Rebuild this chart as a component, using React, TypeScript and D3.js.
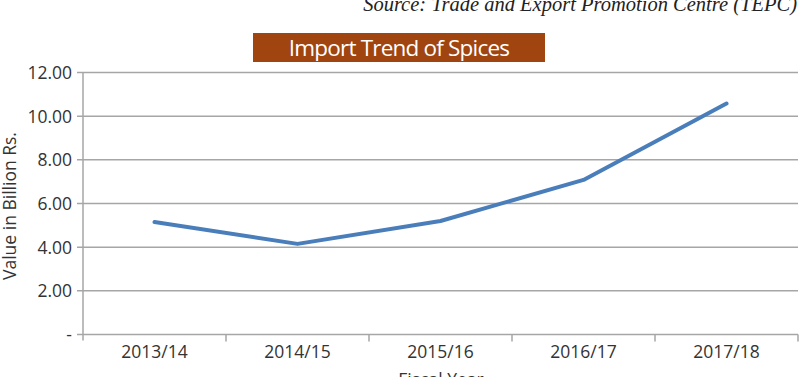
import React from "react";
import * as d3 from "d3";

const categories = ["2013/14", "2014/15", "2015/16", "2016/17", "2017/18"];
const values = [5.15, 4.15, 5.2, 7.08, 10.58];
const yTicks = [0, 2, 4, 6, 8, 10, 12];
const title = "Import Trend of Spices";
const source = "Source: Trade and Export Promotion Centre (TEPC)";
const yTitle = "Value in Billion Rs.";
const xTitle = "Fiscal Year";

export default function App() {
  const W = 800, H = 377;
  const left = 83, right = 798, top = 72.5, bottom = 334.5;
  const x = d3.scaleBand<string>().domain(categories).range([left, right]);
  const y = d3.scaleLinear().domain([0, 12]).range([bottom, top]);
  const line = d3.line<number>()
    .x((_, i) => (x(categories[i]) as number) + x.bandwidth() / 2)
    .y((d) => y(d));
  const font = "'Open Sans', 'Noto Sans', sans-serif";
  return (
    <svg width={W} height={H} style={{ position: "absolute", left: 0, top: 0 }}>
      <rect width={W} height={H} fill="#fff" />
      <text x={797} y={11} textAnchor="end" fontFamily="'Liberation Serif', serif" fontStyle="italic" fontSize={20.5} fill="#222">{source}</text>
      <rect x={253} y={33} width={292} height={29} fill="#a0450f" />
      <text x={399} y={55.5} textAnchor="middle" fontFamily={font} fontSize={22.5} fill="#fff" style={{ letterSpacing: "-0.8px" }}>{title}</text>
      {yTicks.map((t) => (
        <g key={t}>
          <line x1={77} x2={right} y1={y(t)} y2={y(t)} stroke="#a6a6a6" strokeWidth={1.5} />
          <text x={72} y={y(t) + 6.5} textAnchor="end" fontFamily={font} fontSize={17.5} fill="#333">{t === 0 ? "-" : t.toFixed(2)}</text>
        </g>
      ))}
      <line x1={left} x2={left} y1={top} y2={bottom + 6} stroke="#a6a6a6" strokeWidth={1.5} />
      {categories.map((c) => (
        <g key={c}>
          <line x1={(x(c) as number) + x.bandwidth()} x2={(x(c) as number) + x.bandwidth()} y1={bottom} y2={bottom + 7} stroke="#a6a6a6" strokeWidth={1.5} />
          <text x={(x(c) as number) + x.bandwidth() / 2} y={358} textAnchor="middle" fontFamily={font} fontSize={17.5} fill="#333">{c}</text>
        </g>
      ))}
      <path d={line(values) || ""} fill="none" stroke="#4a7ebb" strokeWidth={4} strokeLinecap="round" strokeLinejoin="round" />
      <text transform={`translate(16,206) rotate(-90)`} textAnchor="middle" fontFamily={font} fontSize={17.5} fill="#333">{yTitle}</text>
      <text x={441} y={386} textAnchor="middle" fontFamily={font} fontSize={17.5} fill="#333">{xTitle}</text>
    </svg>
  );
}
